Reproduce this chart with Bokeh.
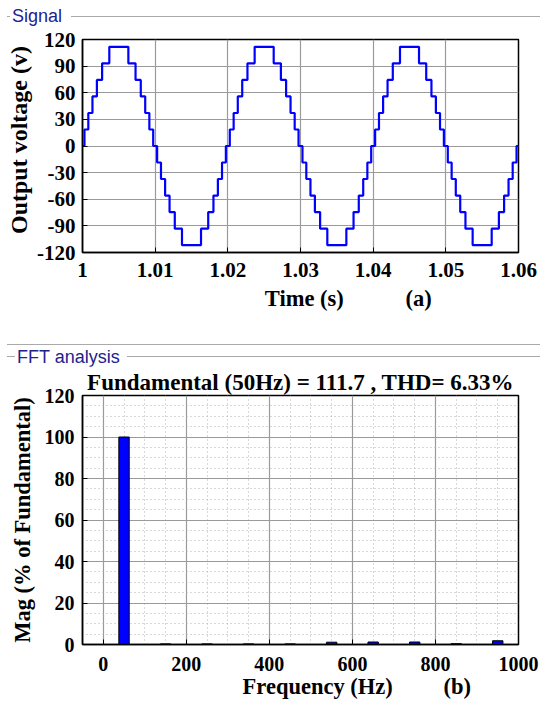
import math
from bokeh.plotting import figure
from bokeh.models import Range1d, FixedTicker, Div
from bokeh.layouts import column
from bokeh.embed import file_html
from bokeh.resources import INLINE

SERIF = "Liberation Serif"
NB = "\u00a0"

# ---------------- panel (a): staircase output voltage ----------------
t_begin = 1.0
t_end = 1.06
v_begin = 0.0
v_end = 0.0
switch_times = [
    1.00027, 1.00080, 1.00137, 1.00198, 1.00270, 1.00369, 1.00631, 1.00730, 1.00802, 1.00863, 1.00920, 1.00973,
    1.01027, 1.01080, 1.01137, 1.01198, 1.01270, 1.01369, 1.01631, 1.01730, 1.01802, 1.01863, 1.01920, 1.01973,
    1.02027, 1.02080, 1.02137, 1.02198, 1.02270, 1.02369, 1.02631, 1.02730, 1.02802, 1.02863, 1.02920, 1.02973,
    1.03027, 1.03080, 1.03137, 1.03198, 1.03270, 1.03369, 1.03631, 1.03730, 1.03802, 1.03863, 1.03920, 1.03973,
    1.04027, 1.04080, 1.04137, 1.04198, 1.04270, 1.04369, 1.04631, 1.04730, 1.04802, 1.04863, 1.04920, 1.04973,
    1.05027, 1.05080, 1.05137, 1.05198, 1.05270, 1.05369, 1.05631, 1.05730, 1.05802, 1.05863, 1.05920, 1.05973,
]
switch_levels = [
    18.6, 37.2, 55.9, 74.5, 93.1, 111.7, 93.1, 74.5, 55.9, 37.2, 18.6, 0.0,
    -18.6, -37.2, -55.9, -74.5, -93.1, -111.7, -93.1, -74.5, -55.9, -37.2, -18.6, 0.0,
    18.6, 37.2, 55.9, 74.5, 93.1, 111.7, 93.1, 74.5, 55.9, 37.2, 18.6, 0.0,
    -18.6, -37.2, -55.9, -74.5, -93.1, -111.7, -93.1, -74.5, -55.9, -37.2, -18.6, 0.0,
    18.6, 37.2, 55.9, 74.5, 93.1, 111.7, 93.1, 74.5, 55.9, 37.2, 18.6, 0.0,
    -18.6, -37.2, -55.9, -74.5, -93.1, -111.7, -93.1, -74.5, -55.9, -37.2, -18.6, 0.0,
]
x1_ticks = [1.0, 1.01, 1.02, 1.03, 1.04, 1.05, 1.06]
x1_labels = ["1", "1.01", "1.02", "1.03", "1.04", "1.05", "1.06"]
y1_ticks = [-120, -90, -60, -30, 0, 30, 60, 90, 120]
y1_labels = ["-120", "-90", "-60", "-30", "0", "30", "60", "90", "120"]
x1_title = "Time (s)"
x1_tag = "(a)"
y1_title = "Output voltage (v)"

# ---------------- panel (b): FFT spectrum ----------------
harm_freq = [50, 150, 250, 350, 450, 550, 650, 750, 850, 950]
harm_mag = [100.0, 0.3, 0.3, 0.3, 0.3, 1.1, 1.2, 1.2, 0.4, 1.8]
fundamental_hz = 50
fundamental_mag = 111.7
thd_percent = 6.33
x2_ticks = [0, 200, 400, 600, 800, 1000]
x2_labels = ["0", "200", "400", "600", "800", "1000"]
x2_minor = [-50, 50, 100, 150, 250, 300, 350, 450, 500, 550, 650, 700, 750, 850, 900, 950]
y2_ticks = [0, 20, 40, 60, 80, 100, 120]
y2_labels = ["0", "20", "40", "60", "80", "100", "120"]
y2_minor = [5, 10, 15, 25, 30, 35, 45, 50, 55, 65, 70, 75, 85, 90, 95, 105, 110, 115]
x2_title = "Frequency (Hz)"
x2_tag = "(b)"
y2_title = "Mag (% of Fundamental)"


def style_axes(p, tick_size):
    p.outline_line_color = "black"
    p.outline_line_width = 1.5
    for ax in (p.xaxis[0], p.yaxis[0]):
        ax.axis_line_color = "black"
        ax.axis_line_width = 1.5
        ax.major_tick_in = 5
        ax.major_tick_out = 0
        ax.major_tick_line_color = "black"
        ax.minor_tick_in = 0
        ax.minor_tick_out = 0
        ax.major_label_text_font = SERIF
        ax.major_label_text_font_style = "bold"
        ax.major_label_text_font_size = tick_size
        ax.major_label_text_color = "black"
        ax.axis_label_text_font = SERIF
        ax.axis_label_text_font_style = "bold"
        ax.axis_label_text_color = "black"


def header_div(height, text, text_left, baseline, line_y, line_start, full_line_y=None):
    parts = [f'<div style="position:relative;width:540px;height:{height}px;background:#fff;">']
    if full_line_y is not None:
        parts.append(f'<div style="position:absolute;left:7px;top:{full_line_y}px;width:533px;height:0;border-top:1.5px solid #aaaaaa;"></div>')
    parts.append(f'<div style="position:absolute;left:7px;top:{line_y}px;width:{text_left - 9}px;height:0;border-top:1.5px solid #aaaaaa;"></div>')
    parts.append(f'<div style="position:absolute;left:{line_start}px;top:{line_y}px;width:{540 - line_start}px;height:0;border-top:1.5px solid #aaaaaa;"></div>')
    top = baseline - 17
    parts.append(f'<span style="position:absolute;left:{text_left}px;top:{top}px;font-family:\'Liberation Sans\',Arial,sans-serif;font-size:18px;line-height:22px;color:#22228f;white-space:nowrap;">{text}</span>')
    parts.append('</div>')
    return Div(text="".join(parts), width=540, height=height, margin=0)


# ---------------- figure (a) ----------------
p1 = figure(width=540, height=294, x_range=Range1d(t_begin, t_end), y_range=Range1d(-120, 120),
            output_backend="svg", toolbar_location=None,
            min_border_left=82, min_border_right=19, min_border_top=13, min_border_bottom=68,
            background_fill_color="white", border_fill_color="white")
p1.step(x=[t_begin] + switch_times + [t_end], y=[v_begin] + switch_levels + [v_end],
        mode="after", line_color="#0000ff", line_width=2.2)
style_axes(p1, "21px")
p1.xaxis[0].ticker = FixedTicker(ticks=x1_ticks)
p1.xaxis[0].major_label_overrides = dict(zip(x1_ticks, x1_labels))
p1.xaxis[0].major_label_standoff = 10
p1.xaxis[0].axis_label = NB * 17 + x1_title + NB * 11 + x1_tag
p1.xaxis[0].axis_label_text_font_size = "22.5px"
p1.xaxis[0].axis_label_standoff = 6
p1.yaxis[0].ticker = FixedTicker(ticks=y1_ticks)
p1.yaxis[0].major_label_overrides = dict(zip(y1_ticks, y1_labels))
p1.yaxis[0].major_label_standoff = 7
p1.yaxis[0].axis_label = NB * 2 + y1_title
p1.yaxis[0].axis_label_text_font_size = "24px"
p1.yaxis[0].axis_label_standoff = 2
for g in (p1.xgrid[0], p1.ygrid[0]):
    g.grid_line_color = "#9a9a9a"
    g.grid_line_width = 1.2

# ---------------- figure (b) ----------------
title_text = f"Fundamental ({fundamental_hz}Hz) = {fundamental_mag} , THD= {thd_percent}%"
p2 = figure(width=540, height=338, x_range=Range1d(-50, 1000), y_range=Range1d(0, 120),
            output_backend="svg", toolbar_location=None, title=title_text,
            min_border_left=82, min_border_right=22, min_border_top=0, min_border_bottom=60,
            background_fill_color="white", border_fill_color="white")
p2.title.align = "center"
p2.title.text_font = SERIF
p2.title.text_font_style = "bold"
p2.title.text_font_size = "23px"
p2.title.text_color = "black"
p2.title.standoff = 2
p2.title.offset = -2
p2.vbar(x=harm_freq, top=harm_mag, width=25, fill_color="#0000ff", line_color="black", line_width=1)
style_axes(p2, "20px")
p2.xaxis[0].ticker = FixedTicker(ticks=x2_ticks, minor_ticks=x2_minor)
p2.xaxis[0].major_label_overrides = dict(zip(x2_ticks, x2_labels))
p2.xaxis[0].major_label_standoff = 12
p2.xaxis[0].axis_label = NB * 20 + x2_title + NB * 9 + x2_tag
p2.xaxis[0].axis_label_text_font_size = "22.5px"
p2.xaxis[0].axis_label_standoff = 0
p2.yaxis[0].ticker = FixedTicker(ticks=y2_ticks, minor_ticks=y2_minor)
p2.yaxis[0].major_label_overrides = dict(zip(y2_ticks, y2_labels))
p2.yaxis[0].major_label_standoff = 8
p2.yaxis[0].axis_label = y2_title
p2.yaxis[0].axis_label_text_font_size = "22.5px"
p2.yaxis[0].axis_label_standoff = 7
for g in (p2.xgrid[0], p2.ygrid[0]):
    g.grid_line_color = "#9a9a9a"
    g.grid_line_width = 1.2
    g.minor_grid_line_color = "#b0b0b0"
    g.minor_grid_line_width = 1
    g.minor_grid_line_dash = "1 3"

div1 = header_div(26, "Signal", 12, 22, 16, 71)
div2 = header_div(46, "FFT analysis", 17, 43, 36, 127, full_line_y=24)

layout = column(div1, p1, div2, p2, spacing=0)
open("out.html", "w").write(file_html(layout, INLINE))
